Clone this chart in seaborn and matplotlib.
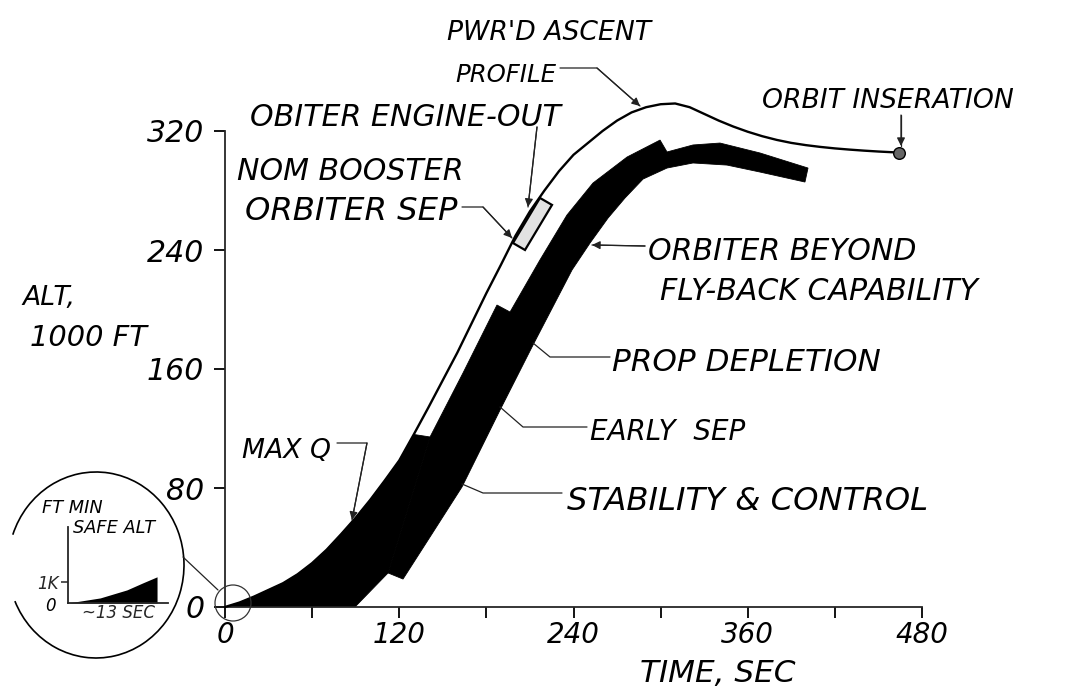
import matplotlib
matplotlib.use("Agg")
import matplotlib.pyplot as plt
import matplotlib.transforms as mtransforms
from matplotlib import font_manager
from matplotlib.lines import Line2D
from matplotlib.patches import Arc, Circle, FancyArrowPatch
import seaborn as sns

# axis ticks
time_ticks = [0, 60, 120, 180, 240, 300, 360, 420, 480]
time_labels = ["0", "", "120", "", "240", "", "360", "", "480"]
alt_ticks = [0, 80, 160, 240, 320]
alt_labels = ["0", "80", "160", "240", "320"]

# powered ascent profile: time (sec) vs altitude (1000 ft)
ascent_time = [0, 10, 20, 30, 40, 50, 60, 70, 80, 90, 100, 110, 120, 130,
               140, 150, 160, 170, 180, 190, 200, 210, 220, 230, 240, 250,
               260, 270, 280, 290, 300, 310, 320, 330, 340, 350, 360, 370,
               380, 390, 400, 410, 420, 430, 440, 450, 464]
ascent_alt = [0, 3, 7, 11.5, 16, 22, 29.5, 38.5, 49, 60, 72, 85, 98.5, 116,
              134, 152.5, 171, 191, 211, 230, 249.5, 266, 280, 293, 304, 312,
              320, 327, 332.5, 336, 338, 338.5, 336, 331.5, 327, 323, 319.5, 316.5,
              314, 312, 310.5, 309.3, 308.3, 307.5, 306.8, 306.2, 305.5]

# max Q wedge: follows the ascent profile up to 130 sec, closes along this edge
wedge_time = [141.2, 112.3, 89.5]
wedge_alt = [114.3, 22.9, 0.0]

# orbiter abort band (stability & control, early sep, prop depletion, beyond fly-back)
band_upper_time = [112.3, 141.2, 163.9, 187.3, 196.3, 216.9, 235.5, 253.4, 276.9,
                   299.6, 304.4, 322.3, 340.9, 368.5, 401.5]
band_upper_alt = [22.9, 114.3, 157.3, 203.0, 198.3, 233.3, 263.5, 285.0, 302.5,
                  313.9, 305.9, 310.6, 311.9, 305.2, 295.1]
band_lower_time = [122.6, 141.2, 163.2, 189.4, 212.1, 239.0, 251.4, 263.8, 275.5,
                   287.9, 304.4, 322.3, 345.7, 368.5, 399.4]
band_lower_alt = [18.8, 47.1, 80.7, 132.4, 176.1, 226.6, 244.7, 261.5, 275.0,
                  287.7, 295.1, 298.5, 297.1, 292.4, 285.7]

# orbiter engine-out window
engine_out_time = [198.3, 206.6, 225.2, 216.9]
engine_out_alt = [244.7, 240.0, 270.3, 275.0]

# min safe altitude inset, first ~13 sec (1000 ft)
inset_time = [0, 4.7, 8.6, 10.9, 13.0]
inset_alt = [0, 0.24, 0.62, 0.95, 1.24]

sns.set_style("ticks")
names = {f.name for f in font_manager.fontManager.ttflist}
narrow = "Liberation Sans Narrow" in names
FONT = ["Liberation Sans Narrow", "DejaVu Sans"] if narrow else ["DejaVu Sans"]
plt.rcParams["font.family"] = FONT


def fs(n):
    return n if narrow else n * 0.8


W, H = 1066, 692
fig = plt.figure(figsize=(W / 100, H / 100), dpi=100)
IDT = mtransforms.IdentityTransform()


def P(x, y):
    return (x, H - y)


def label(x, y, s, size, ha="left"):
    fig.text(*P(x, y), s, transform=IDT, fontsize=fs(size), style="italic",
             family=FONT, ha=ha, va="baseline", color="black")


def leader(pts, arrow=True):
    xs = [p[0] for p in pts]
    ys = [H - p[1] for p in pts]
    fig.add_artist(Line2D(xs, ys, transform=IDT, color="#222", lw=0.9))
    if arrow:
        fig.add_artist(FancyArrowPatch(
            P(*pts[-2]), P(*pts[-1]), transform=IDT, arrowstyle="-|>",
            mutation_scale=12, color="#222", lw=0.9, shrinkA=0, shrinkB=0))


# main axes
ax = fig.add_axes([225 / W, 85 / H, 697 / W, 476 / H])
ax.patch.set_alpha(0)

n_wedge = sum(t <= 130 for t in ascent_time)
ax.fill(ascent_time[:n_wedge] + wedge_time, ascent_alt[:n_wedge] + wedge_alt,
        fc="black", ec="black", lw=0.6)
ax.fill(band_upper_time + band_lower_time[::-1], band_upper_alt + band_lower_alt[::-1],
        fc="black", ec="black", lw=0.6)
ax.fill(engine_out_time, engine_out_alt, fc="#e2e2e2", ec="black", lw=1.6, zorder=3)
sns.lineplot(x=ascent_time, y=ascent_alt, sort=False, estimator=None, color="black",
             lw=1.7, ax=ax, clip_on=False, zorder=4)
sns.scatterplot(x=ascent_time[-1:], y=ascent_alt[-1:], s=70, color="#666",
                edgecolor="black", linewidth=1, ax=ax, clip_on=False, zorder=5)

ax.set_xlim(0, 480)
ax.set_ylim(0, 320)
ax.set_xticks(time_ticks, time_labels)
ax.set_yticks(alt_ticks, alt_labels)
for side in ["top", "right"]:
    ax.spines[side].set_visible(False)
for side in ["left", "bottom"]:
    ax.spines[side].set_linewidth(1.3)
ax.tick_params(direction="out", length=8, width=1.3, colors="black")
ax.tick_params(axis="x", labelsize=fs(25), pad=2)
ax.tick_params(axis="y", labelsize=fs(27), pad=7)
for t in ax.get_xticklabels() + ax.get_yticklabels():
    t.set_fontstyle("italic")
ax.set_xlabel("")
ax.set_ylabel("")

# labels and leaders
label(447, 40, "PWR'D ASCENT", 24)
label(455, 82, "PROFILE", 22)
leader([(560, 68), (597, 68), (640, 106)])

label(762, 108, "ORBIT INSERATION", 24)
leader([(901, 115), (901, 146)])

label(250, 126, "OBITER ENGINE-OUT", 27)
leader([(537, 127), (528, 207)])

label(237, 180, "NOM BOOSTER", 27)
label(245, 220, "ORBITER SEP", 29)
leader([(462, 207), (483, 207), (512, 238)])

label(648, 260, "ORBITER BEYOND", 27)
label(660, 300, "FLY-BACK CAPABILITY", 27)
leader([(645, 246), (592, 245)])

label(22, 305, "ALT,", 24)
label(30, 346, "1000 FT", 26)

label(612, 371, "PROP DEPLETION", 28)
leader([(610, 357), (550, 357), (533, 343)], arrow=False)

label(590, 440, "EARLY  SEP", 25)
leader([(587, 427), (523, 427), (500, 407)], arrow=False)

label(242, 458, "MAX Q", 24)
leader([(337, 443), (367, 443), (352, 520)])

label(567, 510, "STABILITY & CONTROL", 29)
leader([(562, 493), (483, 493), (462, 484)], arrow=False)

label(718, 682, "TIME, SEC", 28, ha="center")

# magnified view of the first seconds
fig.add_artist(Arc(P(96, 565), 176, 186, theta1=-156, theta2=160, transform=IDT,
                   lw=1.2, color="black"))
fig.add_artist(Circle(P(233, 603), 18, fill=False, transform=IDT, lw=0.9, ec="#333"))
fig.add_artist(Line2D([183, 218], [H - 557, H - 590], transform=IDT, color="#222", lw=0.9))

ax_in = fig.add_axes([68 / W, (H - 603) / H, 100 / W, 76 / H])
ax_in.patch.set_alpha(0)
ax_in.fill_between(inset_time, inset_alt, color="black", lw=0)
ax_in.set_xlim(0, 14.6)
ax_in.set_ylim(0, 3.6)
for side in ["top", "right"]:
    ax_in.spines[side].set_visible(False)
for side in ["left", "bottom"]:
    ax_in.spines[side].set_linewidth(1.3)
ax_in.set_xticks([])
ax_in.set_yticks([1], ["1K"])
ax_in.tick_params(axis="y", direction="out", length=5, width=1.1, labelsize=fs(15), pad=2)
for t in ax_in.get_yticklabels():
    t.set_fontstyle("italic")
ax_in.set_xlabel("~13 SEC", fontsize=fs(15), style="italic", labelpad=1)
label(45, 611, "0", 15)
label(42, 513, "FT MIN", 16)
label(73, 533, "SAFE ALT", 16)

fig.savefig("out.png", dpi=100)
